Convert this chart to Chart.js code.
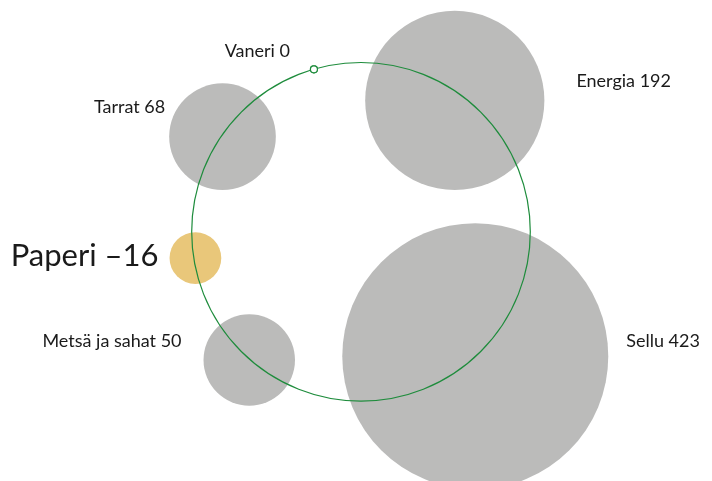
<!DOCTYPE html>
<html><head><meta charset="utf-8">
<script src="https://cdn.jsdelivr.net/npm/chart.js@4.4.1/dist/chart.umd.min.js"></script>
<style>html,body{margin:0;padding:0;background:#fff}#wrap{width:712px;height:481px;position:relative}</style>
</head><body><div id="wrap"><canvas id="c"></canvas></div>
<script>
// ---- data ----
const categories = ["Vaneri", "Energia", "Sellu", "Metsä ja sahat", "Paperi", "Tarrat"];
const values = [0, 192, 423, 50, -16, 68];
const valueLabels = ["0", "192", "423", "50", "–16", "68"];
// bubble positions on the layout plane (ring = unit circle)
const posX = [-0.278, 0.554, 0.675, -0.660, -0.978, -0.818];
const posY = [0.960, 0.776, -0.735, -0.757, -0.155, 0.562];
const highlight = "Paperi";

// ---- styles / layout ----
const GREY = "#bbbbba", GOLD = "#e9c77a", GREEN = "#1e8c3c", TEXT = "#1a1a1a";
const MAX_R = 133;
const maxV = Math.max(...values.map(Math.abs));
const FONT = "Lato, 'Open Sans', sans-serif";
// label placement: side of bubble, gap from edge, baseline offset from centre
const labelLayout = {
  "Vaneri":         {side: "left",  gap: 24,  dy: -12, size: 18},
  "Energia":        {side: "right", gap: 32,  dy: -13, size: 18},
  "Sellu":          {side: "right", gap: 18,  dy: -9,  size: 18},
  "Metsä ja sahat": {side: "left",  gap: 22,  dy: -13, size: 18},
  "Paperi":         {side: "left",  gap: 11,  dy: 8,   size: 31},
  "Tarrat":         {side: "left",  gap: 4,   dy: -24, size: 18}
};

const points = categories.map((c, i) => ({x: posX[i], y: posY[i], v: values[i]}));
const radius = v => v === 0 ? 3.5 : MAX_R * Math.sqrt(Math.abs(v) / maxV);

const ringPlugin = {
  id: "ring",
  afterDatasetsDraw(chart) {
    const ctx = chart.ctx, xs = chart.scales.x, ys = chart.scales.y;
    const cx = xs.getPixelForValue(0), cy = ys.getPixelForValue(0);
    const r = xs.getPixelForValue(1) - cx;
    ctx.save();
    ctx.strokeStyle = GREEN; ctx.lineWidth = 1.2;
    ctx.beginPath(); ctx.arc(cx, cy, r, 0, Math.PI * 2); ctx.stroke();
    ctx.restore();
    // redraw zero-valued point on top of ring
    const meta = chart.getDatasetMeta(0);
    values.forEach((v, i) => { if (v === 0) meta.data[i].draw(ctx, chart.chartArea); });
  },
  afterDraw(chart) {
    const ctx = chart.ctx, meta = chart.getDatasetMeta(0);
    ctx.save();
    ctx.fillStyle = TEXT; ctx.textBaseline = "alphabetic";
    categories.forEach((c, i) => {
      const el = meta.data[i], L = labelLayout[c];
      const r = radius(values[i]);
      ctx.font = L.size + "px " + FONT;
      const txt = c + " " + valueLabels[i];
      if (L.side === "left") { ctx.textAlign = "right"; ctx.fillText(txt, el.x - (values[i] === 0 ? 0 : r) - L.gap, el.y + L.dy); }
      else { ctx.textAlign = "left"; ctx.fillText(txt, el.x + r + L.gap, el.y + L.dy); }
    });
    ctx.restore();
  }
};

new Chart(document.getElementById("c"), {
  type: "bubble",
  data: {
    datasets: [{
      data: points,
      radius: ctx => radius(values[ctx.dataIndex]),
      hoverRadius: ctx => radius(values[ctx.dataIndex]),
      backgroundColor: ctx => values[ctx.dataIndex] === 0 ? "#ffffff" : (categories[ctx.dataIndex] === highlight ? GOLD : GREY),
      borderColor: ctx => values[ctx.dataIndex] === 0 ? GREEN : "rgba(0,0,0,0)",
      borderWidth: ctx => values[ctx.dataIndex] === 0 ? 1.2 : 0,
      clip: false
    }]
  },
  options: {
    responsive: true, maintainAspectRatio: false, animation: false,
    layout: {padding: 0, autoPadding: false},
    plugins: {legend: {display: false}, tooltip: {enabled: false}},
    scales: {
      x: {display: false, min: -2.1323, max: 2.0733},
      y: {display: false, min: -1.4719, max: 1.3692}
    }
  },
  plugins: [ringPlugin]
});
</script></body></html>
